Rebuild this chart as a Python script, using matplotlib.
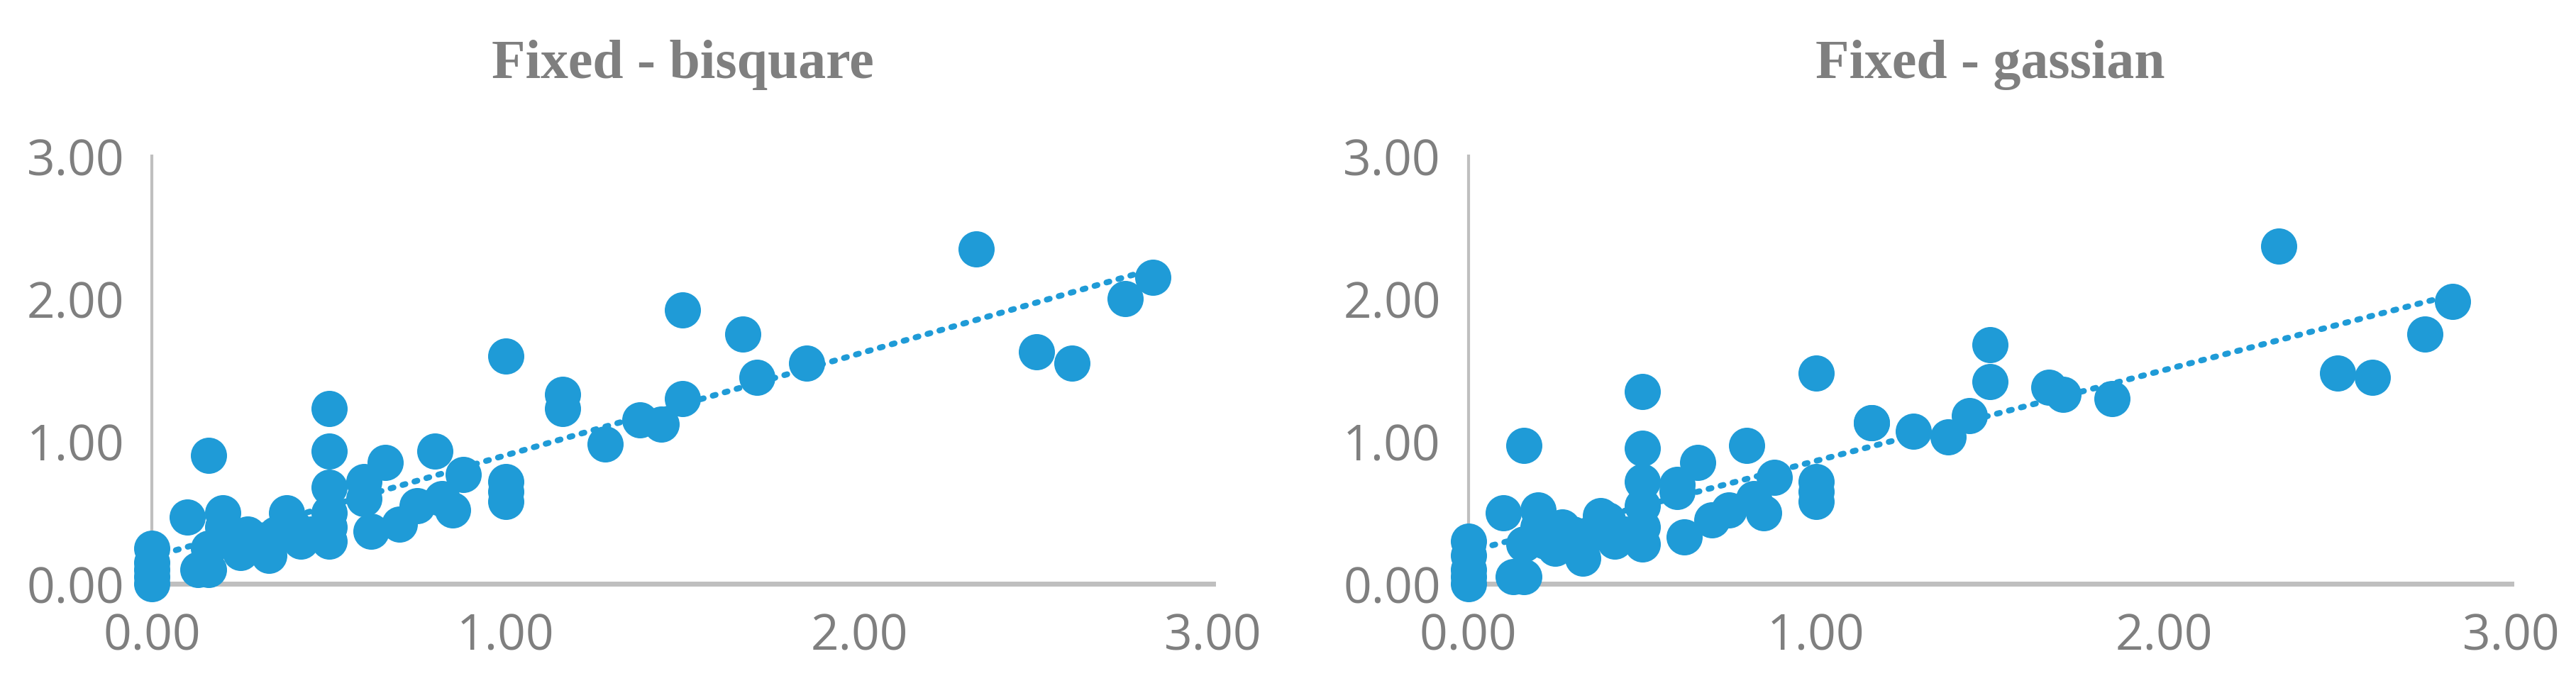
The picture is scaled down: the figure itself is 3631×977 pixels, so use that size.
import matplotlib
matplotlib.use("Agg")
import matplotlib.pyplot as plt
import numpy as np

titles = ["Fixed - bisquare", "Fixed - gassian"]
ticks = [0, 1, 2, 3]
tick_labels = ["0.00", "1.00", "2.00", "3.00"]

x_vals = [0, 0, 0, 0, 0, 0.1, 0.13, 0.16, 0.16, 0.16, 0.2, 0.2, 0.22, 0.25, 0.27, 0.3, 0.33, 0.35,
          0.38, 0.4, 0.42, 0.45, 0.5, 0.5, 0.5, 0.5, 0.5, 0.5, 0.6, 0.6, 0.62, 0.66, 0.7, 0.75, 0.8,
          0.82, 0.85, 0.88, 1.0, 1.0, 1.0, 1.0, 1.16, 1.16, 1.28, 1.38, 1.44, 1.5, 1.5, 1.67, 1.71,
          1.85, 2.33, 2.5, 2.6, 2.75, 2.83]
y_bisquare = [0.25, 0.15, 0.05, 0.1, 0.0, 0.47, 0.1, 0.9, 0.25, 0.1, 0.5, 0.4, 0.3, 0.22, 0.35, 0.3,
              0.2, 0.35, 0.5, 0.4, 0.3, 0.35, 1.23, 0.93, 0.68, 0.5, 0.4, 0.3, 0.72, 0.6, 0.37, 0.85,
              0.42, 0.55, 0.93, 0.6, 0.52, 0.77, 1.6, 0.72, 0.65, 0.58, 1.33, 1.23, 0.98, 1.15, 1.12,
              1.92, 1.3, 1.75, 1.45, 1.55, 2.35, 1.63, 1.55, 2.0, 2.15]
y_gaussian = [0.3, 0.2, 0.1, 0.05, 0.0, 0.5, 0.05, 0.97, 0.28, 0.05, 0.52, 0.4, 0.3, 0.25, 0.4, 0.35,
              0.18, 0.35, 0.48, 0.45, 0.3, 0.35, 1.35, 0.95, 0.72, 0.55, 0.4, 0.28, 0.7, 0.65, 0.33,
              0.85, 0.45, 0.52, 0.97, 0.6, 0.5, 0.75, 1.48, 0.72, 0.65, 0.58, 1.13, 1.13, 1.07, 1.03,
              1.18, 1.68, 1.42, 1.38, 1.33, 1.3, 2.37, 1.48, 1.45, 1.75, 1.98]

blue = "#1F9BD7"
gray = "#7F7F7F"
fig = plt.figure(figsize=(36.31, 9.78), dpi=100)
rects = [[0.059, 0.157, 0.412, 0.617], [0.570, 0.157, 0.405, 0.617]]
for r, title, ys in zip(rects, titles, [y_bisquare, y_gaussian]):
    ax = fig.add_axes(r)
    x = np.array(x_vals); y = np.array(ys)
    ax.scatter(x, y, s=1350, color=blue, zorder=3, clip_on=False, linewidths=0)
    k, b = np.polyfit(x, y, 1)
    xt = np.array([0, x.max()])
    ax.plot(xt, k * xt + b, color=blue, lw=6, ls=(0, (0.5, 1.6)), dash_capstyle="round", zorder=2)
    ax.set_xlim(0, 3); ax.set_ylim(0, 3)
    ax.set_xticks(ticks); ax.set_xticklabels(tick_labels)
    ax.set_yticks(ticks); ax.set_yticklabels(tick_labels)
    ax.tick_params(length=0, labelsize=50, labelcolor=gray, pad=28)
    for s in ["top", "right"]:
        ax.spines[s].set_visible(False)
    for s in ["left", "bottom"]:
        ax.spines[s].set_color("#BFBFBF")
    ax.spines["left"].set_linewidth(3)
    ax.spines["bottom"].set_linewidth(5)
    for lab in ax.get_xticklabels() + ax.get_yticklabels():
        lab.set_family("Open Sans")
    ax.set_title(title, fontsize=56, fontweight="bold", color=gray,
                 family="Liberation Serif", pad=80)
fig.savefig("out.png", dpi=100)
